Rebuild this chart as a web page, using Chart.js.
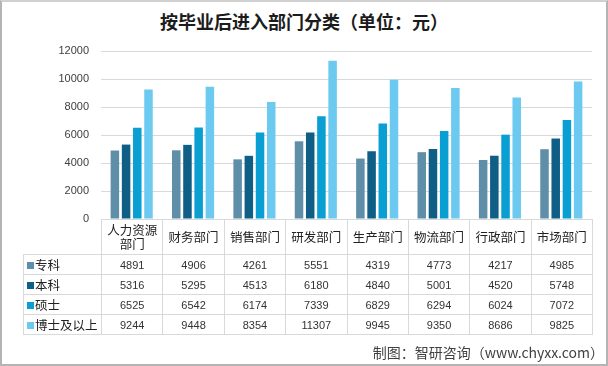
<!DOCTYPE html>
<html>
<head>
<meta charset="utf-8">
<script src="https://cdn.jsdelivr.net/npm/chart.js@4"></script>
<style>
  html, body { margin: 0; padding: 0; background: #fff; }
  #wrap { position: relative; width: 608px; height: 366px; overflow: hidden; background: #fff; }
  #frame { position: absolute; left: 0; top: 0; width: 604px; height: 362px; border: 2px solid #b4b4b4; border-top-color: #d0d0d0; pointer-events: none; }
  #title { position: absolute; left: 0; top: 8px; width: 608px; text-align: center;
    font: bold 18px "Noto Sans CJK SC", sans-serif; color: #1c1c1c; }
  #c { position: absolute; left: 0; top: 0; }
  #tbl { position: absolute; border-collapse: collapse; table-layout: fixed;
    font-family: "Liberation Sans", "Noto Sans CJK SC", sans-serif; color: #333; }
  #tbl td { border: 1px solid #d9d9d9; text-align: center; padding: 0; height: 19px; font-size: 11px; }
  #tbl tr.head td { height: 35px; font: 12.5px/14px "Noto Sans CJK SC", sans-serif; color: #222; border-top: none; }
  #tbl tr.head td.blank { border: none; }
  #tbl td.leg { text-align: left; font: 12.5px "Noto Sans CJK SC", sans-serif; color: #222; padding-left: 3px; white-space: nowrap; }
  #tbl td.leg i { display: inline-block; width: 7px; height: 7px; margin-right: 1px; vertical-align: 1px; }
  #src { position: absolute; right: 4px; top: 342px; font: 14px "Noto Sans CJK SC", sans-serif; color: #404040; }
</style>
</head>
<body>
<div id="wrap">
  <div id="title">按毕业后进入部门分类（单位：元）</div>
  <canvas id="c" width="608" height="366"></canvas>
  <table id="tbl"></table>
  <div id="src">制图：智研咨询（www.chyxx.com）</div>
  <div id="frame"></div>
</div>
<script>
const categories = ['人力资源部门', '财务部门', '销售部门', '研发部门', '生产部门', '物流部门', '行政部门', '市场部门'];
const headerLabels = ['人力资源<br>部门', '财务部门', '销售部门', '研发部门', '生产部门', '物流部门', '行政部门', '市场部门'];
const seriesNames = ['专科', '本科', '硕士', '博士及以上'];
const zhuanke = [4891, 4906, 4261, 5551, 4319, 4773, 4217, 4985];
const benke  = [5316, 5295, 4513, 6180, 4840, 5001, 4520, 5748];
const shuoshi = [6525, 6542, 6174, 7339, 6829, 6294, 6024, 7072];
const boshi  = [9244, 9448, 8354, 11307, 9945, 9350, 8686, 9825];
const colors = ['#5f8ea8', '#0e5e85', '#0a9fd3', '#6ccaf0'];
const yTicks = [0, 2000, 4000, 6000, 8000, 10000, 12000];

const seriesData = [zhuanke, benke, shuoshi, boshi];

// Excel-style data table under the plot, lined up with the x scale
function buildTable() {
  const t = document.getElementById('tbl');
  let html = '<colgroup><col class="c0">' + categories.map(() => '<col class="cc">').join('') + '</colgroup>';
  html += '<tr class="head"><td class="blank"></td>' + headerLabels.map(l => `<td>${l}</td>`).join('') + '</tr>';
  seriesNames.forEach((name, i) => {
    html += `<tr><td class="leg"><i style="background:${colors[i]}"></i>${name}</td>` +
      seriesData[i].map(v => `<td>${v}</td>`).join('') + '</tr>';
  });
  t.innerHTML = html;
}
buildTable();

const tablePlugin = {
  id: 'dataTable',
  afterLayout(chart) {
    const { left, right, bottom } = chart.chartArea;
    const t = document.getElementById('tbl');
    const legLeft = 23;
    const colW = (right - left) / categories.length;
    t.style.left = legLeft + 'px';
    t.style.top = bottom + 'px';
    t.style.width = (right - legLeft + 1) + 'px';
    t.querySelector('col.c0').style.width = (left - legLeft) + 'px';
    t.querySelectorAll('col.cc').forEach(c => { c.style.width = colW + 'px'; });
  },
};

new Chart(document.getElementById('c'), {
  type: 'bar',
  data: {
    labels: categories,
    datasets: seriesNames.map((name, i) => ({
      label: name,
      data: seriesData[i],
      backgroundColor: colors[i],
      borderWidth: 0,
      categoryPercentage: 0.73,
      barPercentage: 0.76,
    })),
  },
  options: {
    responsive: false,
    animation: false,
    devicePixelRatio: 1,
    layout: { padding: { top: 51, right: 16, bottom: 147, left: 0 } },
    plugins: { legend: { display: false }, tooltip: { enabled: false } },
    scales: {
      x: { display: false },
      y: {
        min: 0,
        max: 12000,
        afterBuildTicks: s => { s.ticks = yTicks.map(v => ({ value: v })); },
        afterFit: s => { s.width = 101; },
        border: { display: false },
        grid: { color: '#d9d9d9', drawTicks: false },
        ticks: {
          padding: 12,
          color: '#404040',
          font: { family: 'Liberation Sans', size: 11 },
          callback: v => String(v),
        },
      },
    },
  },
  plugins: [tablePlugin],
});
</script>
</body>
</html>
